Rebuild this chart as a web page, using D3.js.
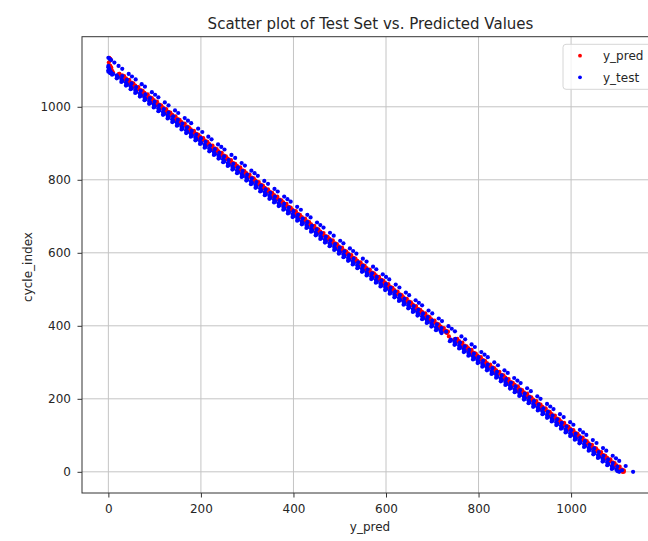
<!DOCTYPE html>
<html>
<head>
<meta charset="utf-8">
<script src="https://cdn.jsdelivr.net/npm/d3@7"></script>
<style>
  body { margin: 0; background: #fff; }
  svg { display: block; font-family: "DejaVu Sans", sans-serif; }
</style>
</head>
<body>
<div id="chartdiv"></div>
<script>
// test samples from the main batteries (cycle_index, y_test, y_pred)
var cycleMain = [
  1112,1108,1104,1100,1098,1096,1094,1092,
  1090,1088,1086,1084,1082,1080,1078,1076,1074,1072,
  1070,1068,1066,1064,1062,1060,1058,1056,1054,1052,
  1050,1048,1046,1044,1042,1040,1038,1036,1034,1032,
  1030,1028,1026,1024,1022,1020,1018,1016,1014,1012,
  1010,1008,1006,1004,1002,1000,998,996,994,992,
  990,988,986,984,982,980,978,976,974,972,
  970,968,966,964,962,960,958,956,954,952,
  950,948,946,944,942,940,938,936,934,932,
  930,928,926,924,922,920,918,916,914,912,
  910,908,906,904,902,900,898,896,894,892,
  890,888,886,884,882,880,878,876,874,872,
  870,868,866,864,862,860,858,856,854,852,
  850,848,846,844,842,840,838,836,834,832,
  830,828,826,824,822,820,818,816,814,812,
  810,808,806,804,802,800,798,796,794,792,
  790,788,786,784,782,780,778,776,774,772,
  770,768,766,764,762,760,758,756,754,752,
  750,748,746,744,742,740,738,736,734,732,
  730,728,726,724,722,720,718,716,714,712,
  710,708,706,704,702,700,698,696,694,692,
  690,688,686,684,682,680,678,676,674,672,
  670,668,666,664,662,660,658,656,654,652,
  650,648,646,644,642,640,638,636,634,632,
  630,628,626,624,622,620,618,616,614,612,
  610,608,606,604,602,600,598,596,594,592,
  590,588,586,584,582,580,578,576,574,572,
  570,568,566,564,562,560,558,556,554,552,
  550,548,546,544,542,540,538,536,534,532,
  530,528,526,524,522,520,518,516,514,512,
  510,508,506,504,502,500,498,496,494,492,
  490,488,486,484,482,480,478,476,474,472,
  470,468,466,464,462,460,458,456,454,452,
  450,448,446,444,442,440,438,436,434,432,
  430,428,426,424,422,420,418,416,414,412,
  410,408,406,404,402,400,398,396,394,392,
  390,388,386,384,382,380,364,362,
  360,358,356,354,352,350,348,346,344,342,
  340,338,336,334,332,330,328,326,324,322,
  320,318,316,314,312,310,308,306,304,302,
  300,298,296,294,292,290,288,286,284,282,
  280,278,276,274,272,270,268,266,264,262,
  260,258,256,254,252,250,248,246,244,242,
  240,238,236,234,232,230,228,226,224,222,
  220,218,216,214,212,210,208,206,204,202,
  200,198,196,194,192,190,188,186,184,182,
  180,178,176,174,172,170,168,166,164,162,
  160,158,156,154,152,150,148,146,144,142,
  140,138,136,134,132,130,128,126,124,122,
  120,118,116,114,112,110,108,106,104,102,
  100,98,96,94,92,90,88,86,84,82,
  80,78,76,74,72,70,68,66,64,62,
  60,58,56,54,52,50,48,46,44,42,
  40,38,36,34,32,30,28,26,24,22,
  20,18,16,14,12,10,8,6,4,2,
  0
];
var testMain = [
  0,0,2,0,4,0,6,4,
  10,8,18,30,20,20,18,28,40,30,
  30,28,38,50,40,40,38,48,60,50,
  50,48,58,70,60,60,58,68,80,70,
  70,68,78,90,80,80,78,88,100,90,
  90,88,98,110,100,100,98,108,120,110,
  110,108,118,130,120,120,118,128,140,130,
  130,128,138,150,140,140,138,148,160,150,
  150,148,158,170,160,160,158,168,180,170,
  170,168,178,190,180,180,178,188,200,190,
  190,188,198,210,200,200,198,208,220,210,
  210,208,218,230,220,220,218,228,240,230,
  230,228,238,250,240,240,238,248,260,250,
  250,248,258,270,260,260,258,268,280,270,
  270,268,278,290,280,280,278,288,300,290,
  290,288,298,310,300,300,298,308,320,310,
  310,308,318,330,320,320,318,328,340,330,
  330,328,338,350,340,340,338,348,360,350,
  350,348,358,370,360,360,358,368,380,370,
  370,368,378,390,380,380,378,388,400,390,
  390,388,398,410,400,400,398,408,420,410,
  410,408,418,430,420,420,418,428,440,430,
  430,428,438,450,440,440,438,448,460,450,
  450,448,458,470,460,460,458,468,480,470,
  470,468,478,490,480,480,478,488,500,490,
  490,488,498,510,500,500,498,508,520,510,
  510,508,518,530,520,520,518,528,540,530,
  530,528,538,550,540,540,538,548,560,550,
  550,548,558,570,560,560,558,568,580,570,
  570,568,578,590,580,580,578,588,600,590,
  590,588,598,610,600,600,598,608,620,610,
  610,608,618,630,620,620,618,628,640,630,
  630,628,638,650,640,640,638,648,660,650,
  650,648,658,670,660,660,658,668,680,670,
  670,668,678,690,680,680,678,688,700,690,
  690,688,698,710,700,700,698,708,720,710,
  710,708,718,730,720,720,750,740,
  740,738,748,760,750,750,748,758,770,760,
  760,758,768,780,770,770,768,778,790,780,
  780,778,788,800,790,790,788,798,810,800,
  800,798,808,820,810,810,808,818,830,820,
  820,818,828,840,830,830,828,838,850,840,
  840,838,848,860,850,850,848,858,870,860,
  860,858,868,880,870,870,868,878,890,880,
  880,878,888,900,890,890,888,898,910,900,
  900,898,908,920,910,910,908,918,930,920,
  920,918,928,940,930,930,928,938,950,940,
  940,938,948,960,950,950,948,958,970,960,
  960,958,968,980,970,970,968,978,990,980,
  980,978,988,1000,990,990,988,998,1010,1000,
  1000,998,1008,1020,1010,1010,1008,1018,1030,1020,
  1020,1018,1028,1040,1030,1030,1028,1038,1050,1040,
  1040,1038,1048,1060,1050,1050,1048,1058,1070,1060,
  1060,1058,1068,1080,1070,1070,1068,1078,1090,1080,
  1080,1078,1088,1100,1090,1090,1088,1098,1110,1100,
  1104
];
var predMain = [
  4,6,5,7,8,6,10,9,
  24,23,30,34,30,32,38,37,45,43,
  44,43,50,54,50,52,58,57,65,63,
  64,63,70,74,70,72,78,77,85,83,
  84,83,90,94,90,92,98,97,105,103,
  104,103,110,114,110,112,118,117,125,123,
  124,123,130,134,130,132,138,137,145,143,
  144,143,150,154,150,152,158,157,165,163,
  164,163,170,174,170,172,178,177,185,183,
  184,183,190,194,190,192,198,197,205,203,
  204,203,210,214,210,212,218,217,225,223,
  224,223,230,234,230,232,238,237,245,243,
  244,243,250,254,250,252,258,257,265,263,
  264,263,270,274,270,272,278,277,285,283,
  284,283,290,294,290,292,298,297,305,303,
  304,303,310,314,310,312,318,317,325,323,
  324,323,330,334,330,332,338,337,345,343,
  344,343,350,354,350,352,358,357,365,363,
  364,363,370,374,370,372,378,377,385,383,
  384,383,390,394,390,392,398,397,405,403,
  404,403,410,414,410,412,418,417,425,423,
  424,423,430,434,430,432,438,437,445,443,
  444,443,450,454,450,452,458,457,465,463,
  464,463,470,474,470,472,478,477,485,483,
  484,483,490,494,490,492,498,497,505,503,
  504,503,510,514,510,512,518,517,525,523,
  524,523,530,534,530,532,538,537,545,543,
  544,543,550,554,550,552,558,557,565,563,
  564,563,570,574,570,572,578,577,585,583,
  584,583,590,594,590,592,598,597,605,603,
  604,603,610,614,610,612,618,617,625,623,
  624,623,630,634,630,632,638,637,645,643,
  644,643,650,654,650,652,658,657,665,663,
  664,663,670,674,670,672,678,677,685,683,
  684,683,690,694,690,692,698,697,705,703,
  704,703,710,714,710,712,718,717,725,723,
  724,723,730,734,730,732,754,750,
  752,758,757,765,763,764,763,770,774,770,
  772,778,777,785,783,784,783,790,794,790,
  792,798,797,805,803,804,803,810,814,810,
  812,818,817,825,823,824,823,830,834,830,
  832,838,837,845,843,844,843,850,854,850,
  852,858,857,865,863,864,863,870,874,870,
  872,878,877,885,883,884,883,890,894,890,
  892,898,897,905,903,904,903,910,914,910,
  912,918,917,925,923,924,923,930,934,930,
  932,938,937,945,943,944,943,950,954,950,
  952,958,957,965,963,964,963,970,974,970,
  972,978,977,985,983,984,983,990,994,990,
  992,998,997,1005,1003,1004,1003,1010,1014,1010,
  1012,1018,1017,1025,1023,1024,1023,1030,1034,1030,
  1032,1038,1037,1045,1043,1044,1043,1050,1054,1050,
  1052,1058,1057,1065,1063,1064,1063,1070,1074,1070,
  1072,1078,1077,1085,1083,1084,1083,1090,1094,1090,
  1092,1098,1097,1105,1103,1104,1103,1110,1114,1110,
  1114
];

// test samples from the longer battery (the sparse line above the band)
var cycleLong = [
  1134,1131,1128,1121,1112,1104,1090,1083,1075,1062,
  1055,1040,1033,1026,1012,1004,990,983,969,962,
  955,940,931,918,911,897,890,883,868,860,
  846,839,825,818,811,797,789,775,768,754,
  747,740,726,718,704,697,683,676,669,655,
  647,633,626,612,605,598,584,576,562,555,
  541,534,527,513,505,491,484,470,463,456,
  442,434,420,413,399,392,385,371,363,349,
  342,328,321,314,300,292,278,271,257,250,
  243,229,221,207,200,186,179,172,158,150,
  136,129,115,108,101,87,79,65,58,44,
  37,30,16,0
];
var testLong = [
  0,3,6,13,22,30,44,51,59,72,
  79,94,101,108,122,130,144,151,165,172,
  179,194,203,216,223,237,244,251,266,274,
  288,295,309,316,323,337,345,359,366,380,
  387,394,408,416,430,437,451,458,465,479,
  487,501,508,522,529,536,550,558,572,579,
  593,600,607,621,629,643,650,664,671,678,
  692,700,714,721,735,742,749,763,771,785,
  792,806,813,820,834,842,856,863,877,884,
  891,905,913,927,934,948,955,962,976,984,
  998,1005,1019,1026,1033,1047,1055,1069,1076,1090,
  1097,1104,1118,1134
];
var predLong = [
  2,4,5,1,3,6,23,24,36,47,
  55,73,74,85,97,106,123,124,142,147,
  155,173,176,193,198,213,223,224,243,249,
  264,274,282,293,298,313,324,332,343,355,
  363,373,381,393,405,413,430,431,442,454,
  463,480,481,499,504,512,529,531,549,554,
  569,579,580,598,604,619,629,637,648,653,
  668,679,687,698,710,718,728,736,748,760,
  768,785,786,797,809,818,835,836,854,859,
  867,884,886,904,909,924,934,935,953,959,
  974,984,992,1003,1008,1023,1034,1042,1053,1065,
  1073,1083,1091,1111
];

var xTicks = [0, 200, 400, 600, 800, 1000];
var yTicks = [0, 200, 400, 600, 800, 1000];

var samples = cycleMain.map(function(c, i) {
    return {cycle: c, test: testMain[i], pred: predMain[i]};
}).concat(cycleLong.map(function(c, i) {
    return {cycle: c, test: testLong[i], pred: predLong[i]};
}));

var width = 648, height = 541;
var plotLeft = 82, plotRight = 659, plotTop = 36.7, plotBottom = 493;
var textColor = "#262626";
var dotRadius = 2.1;

var svgContainer = d3.select("div#chartdiv").append("svg")
                        .attr("width", width)
                        .attr("height", height);

var x = d3.scaleLinear().domain([-57, 1190]).range([plotLeft, plotRight]);
var y = d3.scaleLinear().domain([-58, 1192]).range([plotBottom, plotTop]);

svgContainer.append("clipPath").attr("id", "plotclip")
    .append("rect")
    .attr("x", plotLeft).attr("y", plotTop)
    .attr("width", plotRight - plotLeft).attr("height", plotBottom - plotTop);

// grid
svgContainer.append("g").selectAll("line")
    .data(xTicks).enter().append("line")
    .attr("x1", function (d) { return x(d); })
    .attr("x2", function (d) { return x(d); })
    .attr("y1", plotTop).attr("y2", plotBottom)
    .attr("stroke", "#c4c4c4").attr("stroke-width", 1);

svgContainer.append("g").selectAll("line")
    .data(yTicks).enter().append("line")
    .attr("y1", function (d) { return y(d); })
    .attr("y2", function (d) { return y(d); })
    .attr("x1", plotLeft).attr("x2", plotRight)
    .attr("stroke", "#c4c4c4").attr("stroke-width", 1);

// points: y_pred first, y_test on top
var points = svgContainer.append("g").attr("clip-path", "url(#plotclip)");

points.selectAll("circle.pred")
    .data(samples).enter().append("circle")
    .classed("pred", true)
    .attr("cx", function (d) { return x(d.pred); })
    .attr("cy", function (d) { return y(d.cycle); })
    .attr("r", dotRadius)
    .attr("fill", "#ff0000");

points.selectAll("circle.test")
    .data(samples).enter().append("circle")
    .classed("test", true)
    .attr("cx", function (d) { return x(d.test); })
    .attr("cy", function (d) { return y(d.cycle); })
    .attr("r", dotRadius)
    .attr("fill", "#0000ff");

// spines
svgContainer.append("rect")
    .attr("x", plotLeft).attr("y", plotTop)
    .attr("width", plotRight - plotLeft).attr("height", plotBottom - plotTop)
    .attr("fill", "none").attr("stroke", "#333").attr("stroke-width", 1);

// axes
var xAxis = svgContainer.append("g")
    .attr("transform", "translate(0," + plotBottom + ")")
    .call(d3.axisBottom(x).tickValues(xTicks).tickFormat(d3.format("d"))
        .tickSize(4.5).tickSizeOuter(0).tickPadding(7));
var yAxis = svgContainer.append("g")
    .attr("transform", "translate(" + plotLeft + ",0)")
    .call(d3.axisLeft(y).tickValues(yTicks).tickFormat(d3.format("d"))
        .tickSize(4.5).tickSizeOuter(0).tickPadding(6.5));

[xAxis, yAxis].forEach(function(ax) {
    ax.select(".domain").remove();
    ax.selectAll("line").attr("stroke", "#333");
    ax.selectAll("text").attr("fill", textColor)
        .style("font-size", "12px").style("font-family", "'DejaVu Sans', sans-serif");
});

// labels
svgContainer.append("text")
    .attr("x", (plotLeft + plotRight) / 2).attr("y", 28.5)
    .attr("text-anchor", "middle")
    .attr("fill", textColor).style("font-size", "15px")
    .text("Scatter plot of Test Set vs. Predicted Values");

svgContainer.append("text")
    .attr("x", 370).attr("y", 531)
    .attr("text-anchor", "middle")
    .attr("fill", textColor).style("font-size", "12px")
    .text("y_pred");

svgContainer.append("text")
    .attr("transform", "translate(32,267) rotate(-90)")
    .attr("text-anchor", "middle")
    .attr("fill", textColor).style("font-size", "12px")
    .text("cycle_index");

// legend
var legend = svgContainer.append("g");
legend.append("rect")
    .attr("x", 563).attr("y", 44.3)
    .attr("width", 91).attr("height", 45)
    .attr("rx", 3)
    .attr("fill", "#fff").attr("fill-opacity", 0.8)
    .attr("stroke", "#d6d6d6");

var legendItems = [
    {label: "y_pred", color: "#ff0000", cy: 55.7},
    {label: "y_test", color: "#0000ff", cy: 77.3}
];
legend.selectAll("circle")
    .data(legendItems).enter().append("circle")
    .attr("cx", 580).attr("cy", function (d) { return d.cy; })
    .attr("r", 1.9).attr("fill", function (d) { return d.color; });
legend.selectAll("text")
    .data(legendItems).enter().append("text")
    .attr("x", 603).attr("y", function (d) { return d.cy; })
    .attr("dy", "0.35em")
    .attr("fill", textColor).style("font-size", "12px")
    .text(function (d) { return d.label; });
</script>
</body>
</html>
